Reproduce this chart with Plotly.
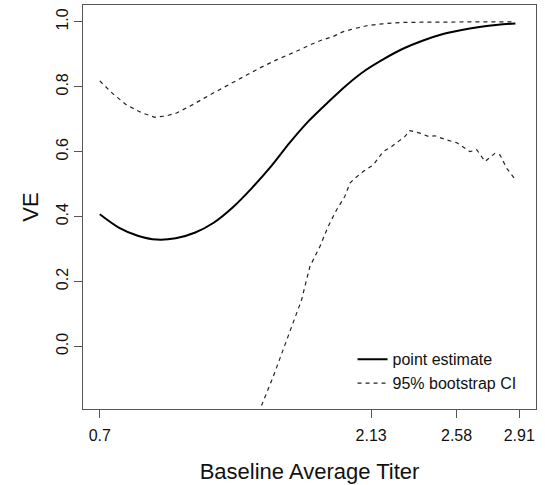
import plotly.graph_objects as go

# Point estimate of VE vs baseline average titer
est_x = [0.70, 0.80, 0.90, 1.00, 1.10, 1.20, 1.30, 1.40, 1.50, 1.60, 1.70, 1.80, 1.90, 2.00, 2.10, 2.20, 2.30,
         2.40, 2.50, 2.60, 2.70, 2.80, 2.89]
est_y = [0.407, 0.366, 0.341, 0.329, 0.333, 0.350, 0.381, 0.428, 0.487, 0.553, 0.627, 0.694, 0.751, 0.805, 0.851,
         0.887, 0.918, 0.942, 0.961, 0.974, 0.984, 0.991, 0.995]

# Upper 95% bootstrap CI
up_x = [0.70, 0.77, 0.841, 0.92, 0.99, 1.05, 1.104, 1.19, 1.28, 1.37, 1.455, 1.54, 1.631, 1.70, 1.754, 1.807, 1.87, 1.93,
        1.983, 2.04, 2.106, 2.19, 2.281, 2.40, 2.545, 2.70, 2.89]
up_y = [0.818, 0.778, 0.744, 0.720, 0.706, 0.710, 0.719, 0.745, 0.775, 0.803, 0.831, 0.857, 0.883, 0.900, 0.914, 0.929, 0.944, 0.955,
        0.970, 0.979, 0.988, 0.994, 0.998, 0.999, 1.000, 1.000, 1.000]

# Lower 95% bootstrap CI
lo_x = [1.530, 1.547, 1.614, 1.666, 1.719, 1.763, 1.807, 1.860, 1.903, 1.948, 1.991, 2.018, 2.044, 2.088, 2.141, 2.193, 2.238,
        2.308, 2.334, 2.387, 2.431, 2.466, 2.528, 2.580, 2.650, 2.686, 2.730, 2.782, 2.809, 2.844, 2.888]
lo_y = [-0.230, -0.190, -0.093, -0.011, 0.071, 0.143, 0.246, 0.308, 0.369, 0.421, 0.462, 0.503, 0.518, 0.539, 0.559, 0.600, 0.616,
        0.647, 0.665, 0.657, 0.647, 0.649, 0.636, 0.628, 0.600, 0.606, 0.570, 0.595, 0.590, 0.549, 0.515]

x_ticks = [0.7, 2.13, 2.58, 2.91]
x_tick_labels = ["0.7", "2.13", "2.58", "2.91"]
y_ticks = [0.0, 0.2, 0.4, 0.6, 0.8, 1.0]
y_tick_labels = ["0.0", "0.2", "0.4", "0.6", "0.8", "1.0"]

FONT = "Liberation Sans, Arial, sans-serif"
AX = "#555555"

fig = go.Figure()
fig.add_trace(go.Scatter(x=est_x, y=est_y, mode="lines", name="point estimate",
                         line=dict(color="black", width=2, shape="spline", smoothing=0.8)))
fig.add_trace(go.Scatter(x=up_x, y=up_y, mode="lines", name="95% bootstrap CI",
                         line=dict(color="#222222", width=1.2, dash="4px,4px")))
fig.add_trace(go.Scatter(x=lo_x, y=lo_y, mode="lines", name="95% bootstrap CI", showlegend=False,
                         line=dict(color="#222222", width=1.2, dash="4px,4px")))

fig.update_layout(
    template="none",
    width=545, height=485,
    margin=dict(l=83, r=9, t=5, b=76, autoexpand=False),
    paper_bgcolor="white", plot_bgcolor="white",
    font=dict(family=FONT, size=16, color="#111111"),
    showlegend=True,
    legend=dict(x=0.595, y=0.165, xanchor="left", yanchor="top",
                bgcolor="rgba(0,0,0,0)", borderwidth=0,
                font=dict(size=16, family=FONT), itemwidth=30, tracegroupgap=0),
)
fig.update_xaxes(range=[0.6116, 2.9984], tickmode="array", tickvals=x_ticks, ticktext=x_tick_labels,
                 automargin=False,
                 showgrid=False, zeroline=False, showline=True, mirror=True, linecolor=AX, linewidth=1,
                 ticks="outside", ticklen=8, tickcolor=AX, tickwidth=1, ticklabelstandoff=4,
                 title=dict(text="Baseline Average Titer", font=dict(size=22, family=FONT), standoff=20))
fig.update_yaxes(range=[-0.193, 1.052], tickmode="array", tickvals=y_ticks, ticktext=y_tick_labels,
                 tickangle=-90, automargin=False,
                 showgrid=False, zeroline=False, showline=True, mirror=True, linecolor=AX, linewidth=1,
                 ticks="outside", ticklen=8, tickcolor=AX, tickwidth=1, ticklabelstandoff=0,
                 title=dict(text="VE", font=dict(size=22, family=FONT), standoff=8))

fig.write_html("out.html", config={"displayModeBar": False},
               post_script="document.body.style.margin='0';")
